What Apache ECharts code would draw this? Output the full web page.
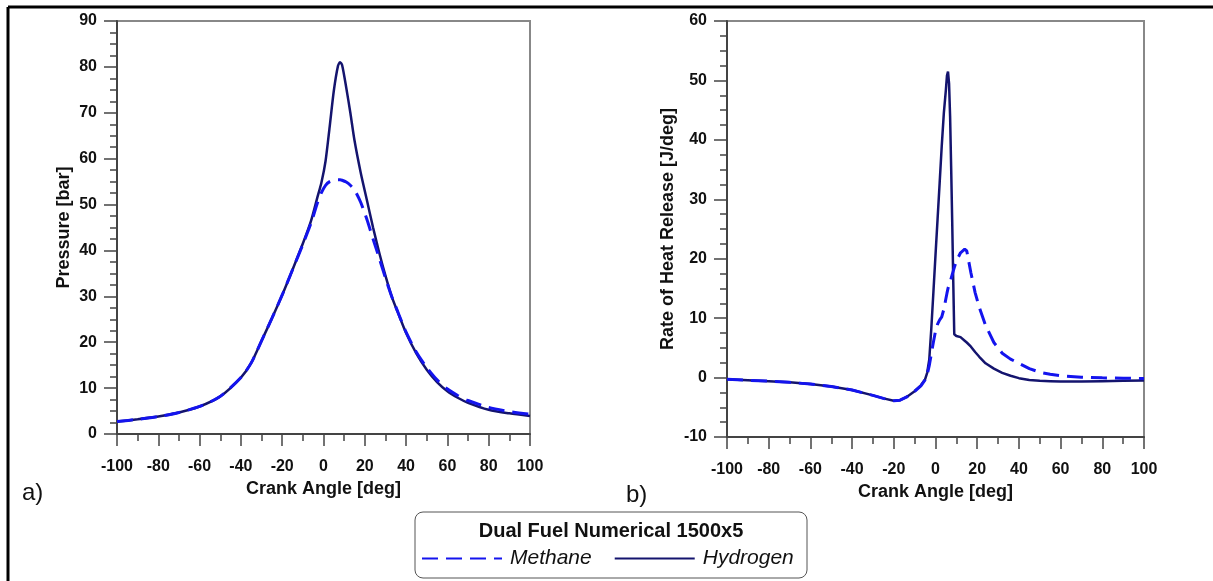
<!DOCTYPE html>
<html>
<head>
<meta charset="utf-8">
<title>Dual Fuel Numerical 1500x5</title>
<script src="https://cdn.jsdelivr.net/npm/echarts@6/dist/echarts.min.js"></script>
<style>
  html, body { margin: 0; padding: 0; background: #fff; }
  #chart { width: 1213px; height: 581px; }
</style>
</head>
<body>
<div id="chart"></div>
<script>
// crank angle grids [deg]
const pressureAngles = [-100, -90, -80, -70, -60, -50, -40, -35, -30, -25, -20, -15, -10, -6, -3, -1, 1, 3, 5, 7, 8, 9, 11, 13, 15, 18, 21, 24, 27, 30, 33, 36, 40, 45, 50, 55, 60, 65, 70, 80, 90, 100]
const pressureHydrogen = [2.7, 3.2, 3.8, 4.7, 6.0, 8.2, 12.3, 15.5, 20.3, 25.2, 30.3, 35.8, 41.5, 46.5, 51.5, 54.8, 59.5, 67.0, 74.8, 80.2, 81.0, 80.4, 75.5, 70.0, 64.0, 57.0, 51.0, 45.0, 39.5, 34.5, 30.0, 26.5, 22.0, 17.5, 14.0, 11.3, 9.3, 7.9, 6.8, 5.3, 4.5, 3.9]
const pressureMethane = [2.7, 3.2, 3.8, 4.7, 6.0, 8.2, 12.3, 15.5, 20.3, 25.2, 30.3, 35.8, 41.3, 46.0, 50.3, 52.6, 54.2, 55.0, 55.3, 55.4, 55.4, 55.3, 54.9, 54.2, 53.2, 50.5, 46.8, 42.5, 38.3, 34.0, 30.0, 26.6, 22.2, 17.8, 14.5, 11.8, 9.8, 8.4, 7.3, 5.8, 4.9, 4.3]

const rhrAngles = [-100, -90, -80, -70, -60, -50, -40, -30, -25, -20, -17, -14, -10, -7, -5, -4, -3, -2, -1, 0, 1, 2, 3, 4, 5, 5.5, 6, 6.5, 7, 7.5, 8, 8.5, 9, 10, 12, 14, 15, 17, 19, 21, 24, 28, 32, 36, 40, 45, 50, 55, 60, 70, 80, 90, 100]
const rhrHydrogen = [-0.3, -0.45, -0.6, -0.8, -1.1, -1.5, -2.1, -3.0, -3.5, -3.9, -3.8, -3.3, -2.3, -1.3, -0.3, 0.8, 3.0, 8.3, 14.4, 20.6, 26.7, 32.8, 39.0, 44.5, 48.5, 50.8, 51.5, 49.5, 44.0, 35.5, 26.5, 16.5, 7.3, 7.0, 6.8, 6.2, 5.9, 5.2, 4.3, 3.5, 2.4, 1.5, 0.8, 0.3, -0.1, -0.4, -0.55, -0.6, -0.65, -0.65, -0.6, -0.55, -0.5]
const rhrMethane = [-0.3, -0.45, -0.6, -0.8, -1.1, -1.5, -2.1, -3.0, -3.5, -3.9, -3.8, -3.3, -2.3, -1.4, -0.4, 0.5, 2.0, 4.0, 6.0, 7.8, 9.0, 9.7, 10.2, 11.5, 13.3, 14.2, 15.0, 15.6, 16.1, 16.7, 17.3, 17.9, 18.5, 19.6, 21.0, 21.6, 21.3, 17.6, 14.3, 11.8, 8.8, 5.9, 4.1, 3.1, 2.4, 1.5, 0.9, 0.55, 0.3, 0.05, -0.05, -0.1, -0.15]

const seriesNames = ['Methane', 'Hydrogen']
const legendTitle = 'Dual Fuel Numerical 1500x5'

const FONT = '"Liberation Sans", Arial, sans-serif'
const METHANE_COLOR = '#1414ee'
const HYDROGEN_COLOR = '#14146e'

const zip = (xs, ys) => xs.map((x, i) => [x, ys[i]])

const xAxisBase = (gridIndex) => ({
  type: 'value',
  gridIndex,
  min: -100,
  max: 100,
  interval: 20,
  name: 'Crank Angle [deg]',
  nameLocation: 'middle',
  nameGap: 44,
  nameTextStyle: { fontFamily: FONT, fontWeight: 'bold', fontSize: 18, color: '#111' },
  axisLine: { onZero: false, lineStyle: { color: '#444', width: 2 } },
  axisTick: { length: 12, lineStyle: { color: '#444', width: 1.5 } },
  minorTick: { show: true, splitNumber: 2, length: 7, lineStyle: { color: '#444', width: 1.5 } },
  axisLabel: { margin: 25, fontFamily: FONT, fontWeight: 'bold', fontSize: 16, color: '#111' },
  splitLine: { show: false }
})

const yAxisBase = (gridIndex, min, max, name, nameGap) => ({
  type: 'value',
  gridIndex,
  min,
  max,
  interval: 10,
  name,
  nameLocation: 'middle',
  nameGap,
  nameTextStyle: { fontFamily: FONT, fontWeight: 'bold', fontSize: 18, color: '#111' },
  axisLine: { show: true, onZero: false, lineStyle: { color: '#444', width: 2 } },
  axisTick: { length: 13, lineStyle: { color: '#444', width: 1.5 } },
  minorTick: { show: true, splitNumber: 4, length: 7, lineStyle: { color: '#444', width: 1.5 } },
  axisLabel: { margin: 20, fontFamily: FONT, fontWeight: 'bold', fontSize: 16, color: '#111' },
  splitLine: { show: false }
})

const lineSeries = (name, data, axisIndex, dashed, smooth) => ({
  name,
  type: 'line',
  xAxisIndex: axisIndex,
  yAxisIndex: axisIndex,
  data,
  showSymbol: false,
  symbol: 'none',
  smooth,
  silent: true,
  z: dashed ? 3 : 2,
  lineStyle: dashed
    ? { color: METHANE_COLOR, width: 3, type: [16, 8] }
    : { color: HYDROGEN_COLOR, width: 2.5, type: 'solid' },
  itemStyle: { color: dashed ? METHANE_COLOR : HYDROGEN_COLOR }
})

const chart = echarts.init(document.getElementById('chart'), null, { renderer: 'canvas' })

chart.setOption({
  animation: false,
  backgroundColor: '#fff',
  grid: [
    { left: 117, top: 21, width: 413, height: 413, show: true, borderColor: '#888', borderWidth: 2 },
    { left: 727, top: 21, width: 417, height: 416, show: true, borderColor: '#888', borderWidth: 2 }
  ],
  xAxis: [xAxisBase(0), xAxisBase(1)],
  yAxis: [
    yAxisBase(0, 0, 90, 'Pressure [bar]', 44),
    yAxisBase(1, -10, 60, 'Rate of Heat Release [J/deg]', 50)
  ],
  legend: {
    data: seriesNames,
    left: 421,
    top: 548,
    padding: 0,
    itemWidth: 80,
    itemHeight: 24,
    itemGap: 22,
    selectedMode: false,
    // hide the marker circle that line legends draw on top of the line
    itemStyle: { color: 'rgba(0,0,0,0)', borderWidth: 0, opacity: 0 },
    textStyle: { fontFamily: FONT, fontStyle: 'italic', fontSize: 21, color: '#111', padding: [0, 0, 0, 3] }
  },
  series: [
    lineSeries('Methane', zip(pressureAngles, pressureMethane), 0, true, 0.25),
    lineSeries('Hydrogen', zip(pressureAngles, pressureHydrogen), 0, false, 0.25),
    lineSeries('Methane', zip(rhrAngles, rhrMethane), 1, true, false),
    lineSeries('Hydrogen', zip(rhrAngles, rhrHydrogen), 1, false, false)
  ],
  graphic: [
    // outer frame (top + left only)
    { type: 'line', shape: { x1: 8, y1: 7, x2: 1213, y2: 7 }, style: { stroke: '#000', lineWidth: 3 }, silent: true },
    { type: 'line', shape: { x1: 8, y1: 7, x2: 8, y2: 581 }, style: { stroke: '#000', lineWidth: 3 }, silent: true },
    // panel labels
    { type: 'text', left: 22, top: 481, style: { text: 'a)', font: '24px ' + FONT, fill: '#111' }, silent: true },
    { type: 'text', left: 626, top: 483, style: { text: 'b)', font: '24px ' + FONT, fill: '#111' }, silent: true },
    // legend box + title
    { type: 'rect', shape: { x: 415, y: 512, width: 392, height: 66, r: 8 }, style: { fill: 'none', stroke: '#555', lineWidth: 1 }, z: -1, silent: true },
    { type: 'text', x: 611, y: 531, style: { text: legendTitle, font: 'bold 20px ' + FONT, fill: '#111', align: 'center', verticalAlign: 'middle' }, silent: true }
  ]
})

window.addEventListener('resize', () => chart.resize())
</script>
</body>
</html>
